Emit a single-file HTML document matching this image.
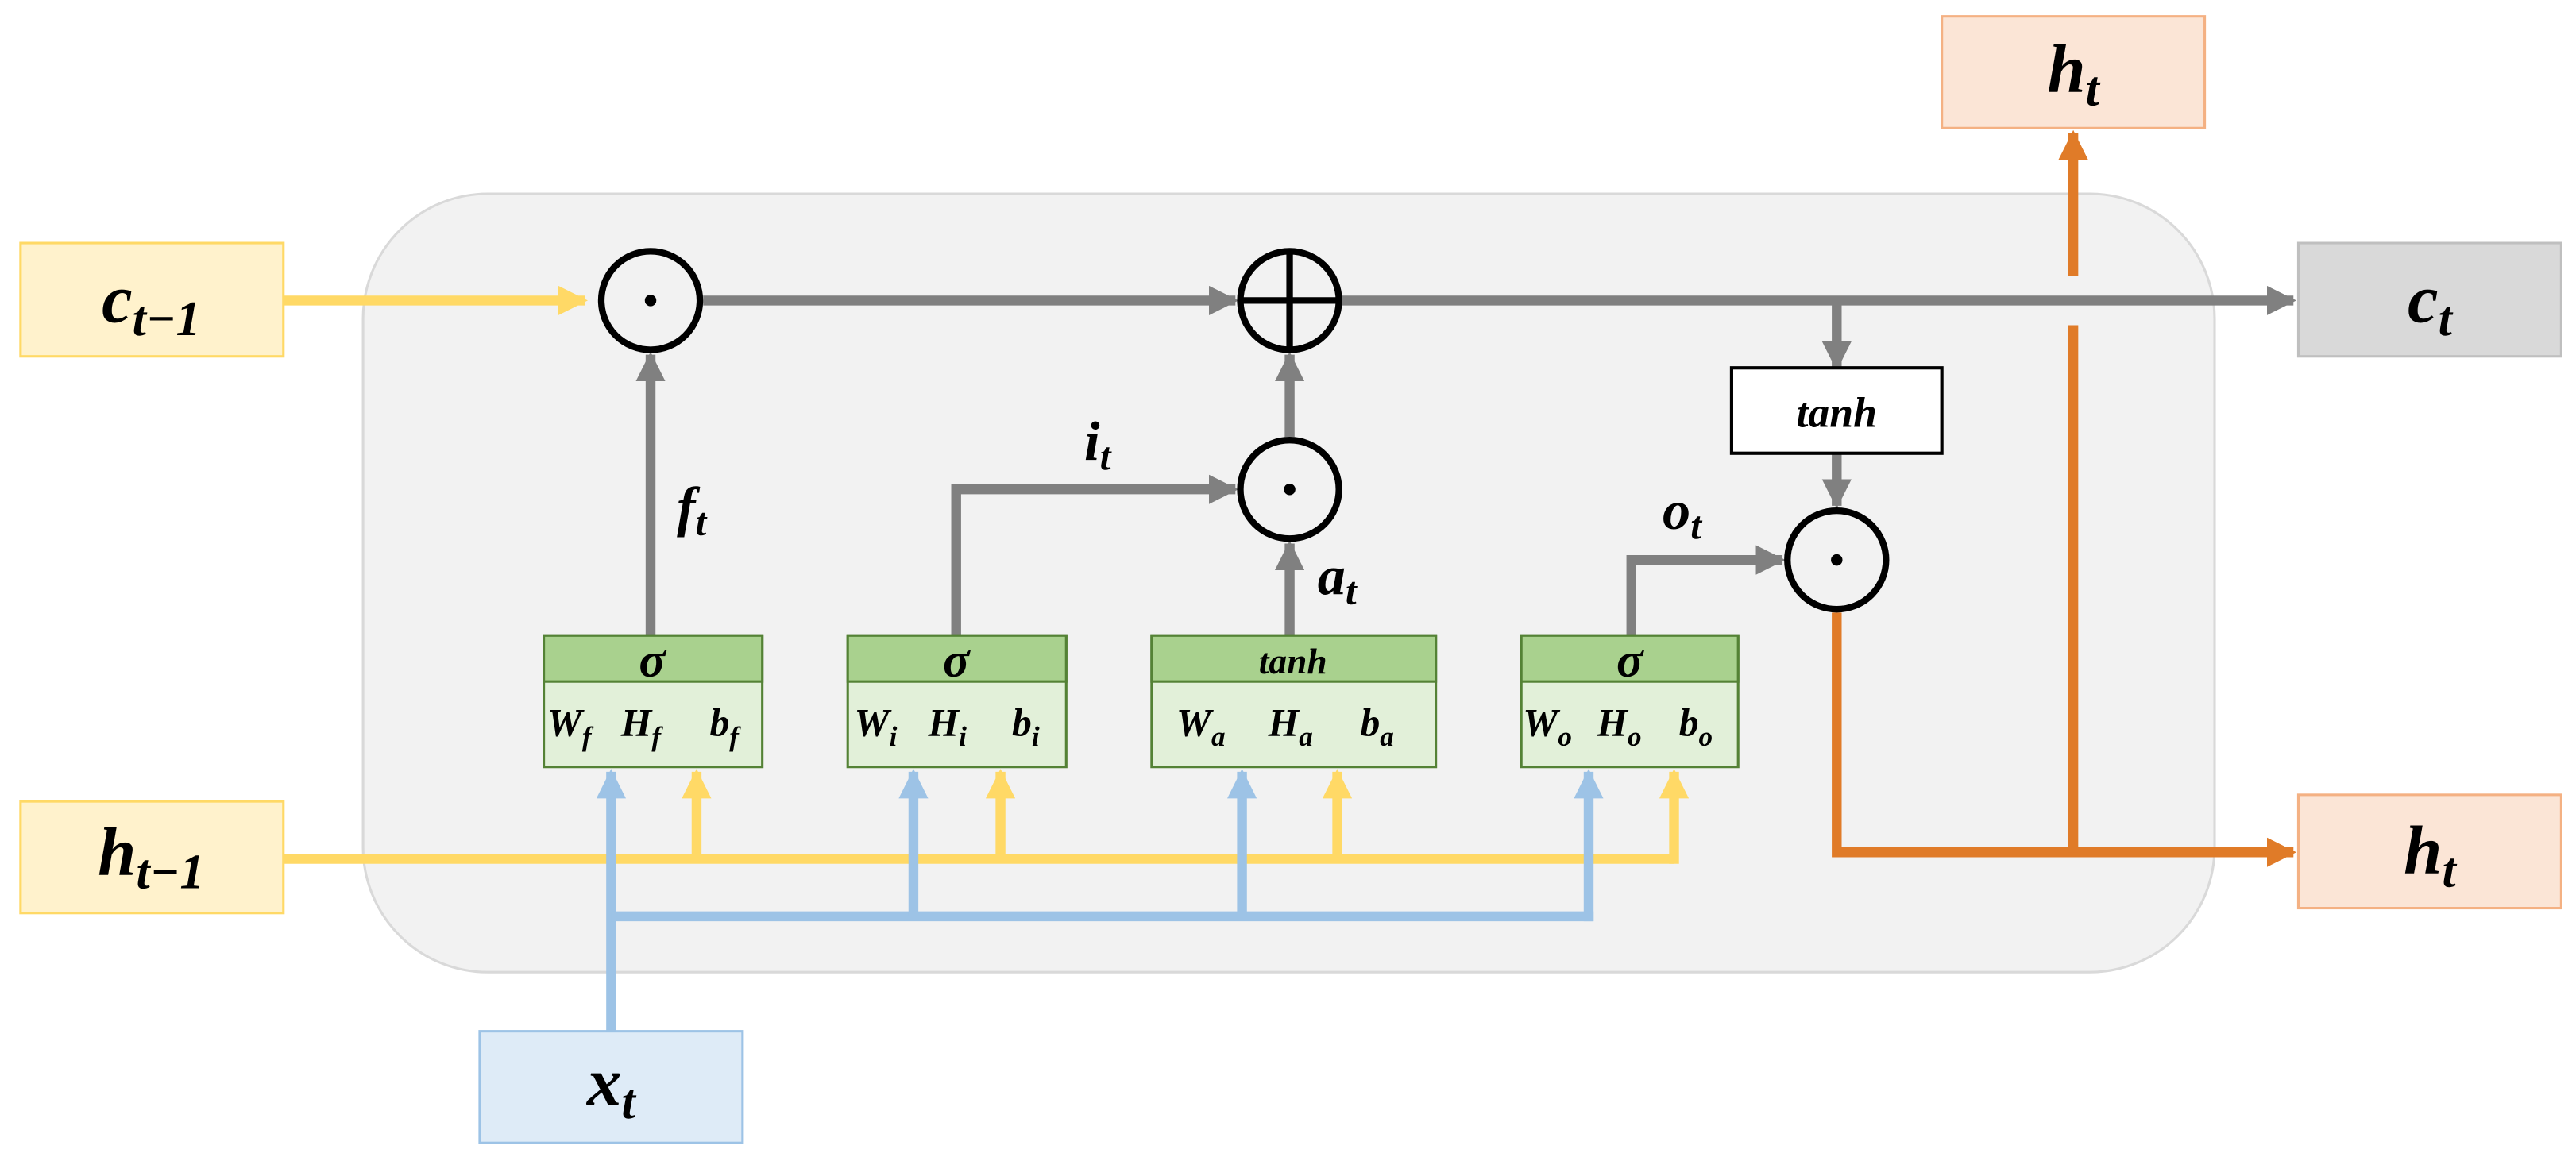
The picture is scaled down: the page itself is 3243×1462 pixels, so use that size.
<!DOCTYPE html>
<html><head><meta charset="utf-8"><style>
html,body{margin:0;padding:0;background:#fff;}
svg{display:block;}
text{font-family:"Liberation Serif",serif;font-weight:bold;font-style:italic;fill:#000;}
</style></head><body>
<svg width="3243" height="1462" viewBox="0 0 1568 707" preserveAspectRatio="none" xmlns="http://www.w3.org/2000/svg">
<defs>
<marker id="ag" viewBox="0 0 10 10" refX="9" refY="5" markerWidth="3" markerHeight="3" orient="auto" markerUnits="strokeWidth"><path d="M0,0 L10,5 L0,10 z" fill="#808080"/></marker>
<marker id="ay" viewBox="0 0 10 10" refX="9" refY="5" markerWidth="3" markerHeight="3" orient="auto" markerUnits="strokeWidth"><path d="M0,0 L10,5 L0,10 z" fill="#ffd966"/></marker>
<marker id="ab" viewBox="0 0 10 10" refX="9" refY="5" markerWidth="3" markerHeight="3" orient="auto" markerUnits="strokeWidth"><path d="M0,0 L10,5 L0,10 z" fill="#9dc3e6"/></marker>
<marker id="ao" viewBox="0 0 10 10" refX="9" refY="5" markerWidth="3" markerHeight="3" orient="auto" markerUnits="strokeWidth"><path d="M0,0 L10,5 L0,10 z" fill="#e07b28"/></marker>
</defs>
<rect x="221" y="118" width="1127" height="474" rx="76" ry="76" fill="#f2f2f2" stroke="#d9d9d9" stroke-width="1.5"/>
<rect x="12.5" y="148" width="160" height="69" fill="#fff2cc" stroke="#ffd966" stroke-width="1.5"/>
<rect x="12.5" y="488" width="160" height="68" fill="#fff2cc" stroke="#ffd966" stroke-width="1.5"/>
<rect x="292" y="628" width="160" height="68" fill="#deebf7" stroke="#9dc3e6" stroke-width="1.5"/>
<rect x="1182" y="10" width="160" height="68" fill="#fbe5d6" stroke="#f4b183" stroke-width="1.5"/>
<rect x="1399" y="148" width="160" height="69" fill="#d9d9d9" stroke="#bfbfbf" stroke-width="1.5"/>
<rect x="1399" y="484" width="160" height="69" fill="#fbe5d6" stroke="#f4b183" stroke-width="1.5"/>
<text x="92" y="196" font-size="42" text-anchor="middle">c<tspan font-size="30" dy="8">t−1</tspan></text>
<text x="92" y="533" font-size="42" text-anchor="middle">h<tspan font-size="30" dy="8">t−1</tspan></text>
<text x="372" y="673" font-size="42" text-anchor="middle">x<tspan font-size="30" dy="8">t</tspan></text>
<text x="1262" y="56" font-size="42" text-anchor="middle">h<tspan font-size="30" dy="8">t</tspan></text>
<text x="1479" y="196" font-size="42" text-anchor="middle">c<tspan font-size="30" dy="8">t</tspan></text>
<text x="1479" y="532" font-size="42" text-anchor="middle">h<tspan font-size="30" dy="8">t</tspan></text>
<g fill="none" stroke-width="6">
<polyline points="173,183 356,183" stroke="#ffd966" marker-end="url(#ay)"/>
<polyline points="173,523 1019,523" stroke="#ffd966"/>
<line x1="424" y1="523" x2="424" y2="470" stroke="#ffd966" marker-end="url(#ay)"/>
<line x1="609" y1="523" x2="609" y2="470" stroke="#ffd966" marker-end="url(#ay)"/>
<line x1="814" y1="523" x2="814" y2="470" stroke="#ffd966" marker-end="url(#ay)"/>
<line x1="1019" y1="526" x2="1019" y2="470" stroke="#ffd966" marker-end="url(#ay)"/>
<line x1="372" y1="628" x2="372" y2="470" stroke="#9dc3e6" marker-end="url(#ab)"/>
<polyline points="372,558 970,558" stroke="#9dc3e6"/>
<line x1="556" y1="558" x2="556" y2="470" stroke="#9dc3e6" marker-end="url(#ab)"/>
<line x1="756" y1="558" x2="756" y2="470" stroke="#9dc3e6" marker-end="url(#ab)"/>
<line x1="967" y1="561" x2="967" y2="470" stroke="#9dc3e6" marker-end="url(#ab)"/>
</g>
<g fill="none" stroke="#808080" stroke-width="6">
<line x1="428" y1="183" x2="752" y2="183" marker-end="url(#ag)"/>
<line x1="817" y1="183" x2="1396" y2="183" marker-end="url(#ag)"/>
<line x1="396" y1="387" x2="396" y2="216" marker-end="url(#ag)"/>
<polyline points="582,387 582,298 752,298" marker-end="url(#ag)"/>
<line x1="785" y1="387" x2="785" y2="331" marker-end="url(#ag)"/>
<line x1="785" y1="266" x2="785" y2="216" marker-end="url(#ag)"/>
<line x1="1118" y1="183" x2="1118" y2="224" marker-end="url(#ag)"/>
<line x1="1118" y1="276" x2="1118" y2="308" marker-end="url(#ag)"/>
<polyline points="993,387 993,341 1085,341" marker-end="url(#ag)"/>
</g>
<g fill="none" stroke="#e07b28" stroke-width="6">
<polyline points="1118,373 1118,519 1396,519" marker-end="url(#ao)"/>
<line x1="1262" y1="519" x2="1262" y2="198"/>
<line x1="1262" y1="168" x2="1262" y2="81" marker-end="url(#ao)"/>
</g>
<g stroke="#000" stroke-width="4" fill="#f2f2f2">
<circle cx="396" cy="183" r="30"/>
<circle cx="785" cy="183" r="30"/>
<circle cx="785" cy="298" r="30"/>
<circle cx="1118" cy="341" r="30"/>
<line x1="755" y1="183" x2="815" y2="183"/>
<line x1="785" y1="153" x2="785" y2="213"/>
</g>
<circle cx="396" cy="183" r="3.5"/>
<circle cx="785" cy="298" r="3.5"/>
<circle cx="1118" cy="341" r="3.5"/>
<rect x="1054" y="224" width="128" height="52" fill="#fff" stroke="#000" stroke-width="2"/>
<text x="1118" y="260" font-size="26" text-anchor="middle" font-family="Liberation Sans,sans-serif">tanh</text>
<g stroke="#548235" stroke-width="1.5">
<rect x="331" y="387" width="133" height="80" fill="#e2f0d9"/><rect x="331" y="387" width="133" height="28" fill="#a9d18e"/>
<rect x="516" y="387" width="133" height="80" fill="#e2f0d9"/><rect x="516" y="387" width="133" height="28" fill="#a9d18e"/>
<rect x="701" y="387" width="173" height="80" fill="#e2f0d9"/><rect x="701" y="387" width="173" height="28" fill="#a9d18e"/>
<rect x="926" y="387" width="132" height="80" fill="#e2f0d9"/><rect x="926" y="387" width="132" height="28" fill="#a9d18e"/>
</g>
<text x="397" y="412" font-size="30" text-anchor="middle">σ</text>
<text x="582" y="412" font-size="30" text-anchor="middle">σ</text>
<text x="787" y="410" font-size="22" text-anchor="middle" font-family="Liberation Sans,sans-serif">tanh</text>
<text x="992" y="412" font-size="30" text-anchor="middle">σ</text>
<g font-size="24">
<text x="333" y="448">W<tspan font-size="17" dy="6">f</tspan></text><text x="378" y="448">H<tspan font-size="17" dy="6">f</tspan></text><text x="432" y="448">b<tspan font-size="17" dy="6">f</tspan></text>
<text x="520" y="448">W<tspan font-size="17" dy="6">i</tspan></text><text x="565" y="448">H<tspan font-size="17" dy="6">i</tspan></text><text x="616" y="448">b<tspan font-size="17" dy="6">i</tspan></text>
<text x="716" y="448">W<tspan font-size="17" dy="6">a</tspan></text><text x="772" y="448">H<tspan font-size="17" dy="6">a</tspan></text><text x="828" y="448">b<tspan font-size="17" dy="6">a</tspan></text>
<text x="927" y="448">W<tspan font-size="17" dy="6">o</tspan></text><text x="972" y="448">H<tspan font-size="17" dy="6">o</tspan></text><text x="1022" y="448">b<tspan font-size="17" dy="6">o</tspan></text>
</g>
<text x="412" y="320" font-size="34">f<tspan font-size="24" dy="6">t</tspan></text>
<text x="660" y="280" font-size="34">i<tspan font-size="24" dy="6">t</tspan></text>
<text x="802" y="362" font-size="34">a<tspan font-size="24" dy="6">t</tspan></text>
<text x="1012" y="322" font-size="34">o<tspan font-size="24" dy="6">t</tspan></text>
</svg>
</body></html>
